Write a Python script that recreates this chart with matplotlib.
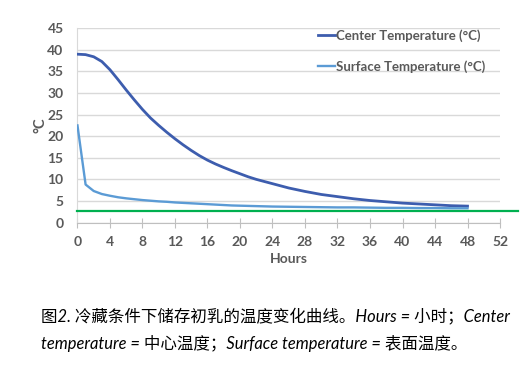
import matplotlib
matplotlib.use("Agg")
import matplotlib.pyplot as plt

hours = list(range(0, 25)) + list(range(26, 49, 2))
center_temp = [39.0, 38.9, 38.4, 37.3, 35.4, 33.1, 30.7, 28.4, 26.2, 24.2, 22.5, 20.9,
               19.4, 18.0, 16.7, 15.5, 14.45, 13.55, 12.75, 12.0, 11.3, 10.6, 10.0, 9.5, 9.0,
               8.0, 7.2, 6.5, 6.0, 5.5, 5.1, 4.8, 4.5, 4.3, 4.1, 3.9, 3.8]
surface_temp = [22.5, 8.8, 7.3, 6.6, 6.2, 5.85, 5.6, 5.4, 5.2, 5.05, 4.9, 4.8,
                4.65, 4.55, 4.45, 4.35, 4.25, 4.15, 4.05, 3.95, 3.9, 3.85, 3.8, 3.75, 3.7,
                3.65, 3.6, 3.55, 3.5, 3.5, 3.45, 3.4, 3.4, 3.35, 3.35, 3.3, 3.3]
ref_x = [0, 54.2]
ref_y = [2.75, 2.75]
x_ticks = list(range(0, 53, 4))
y_ticks = list(range(0, 46, 5))
series_labels = ["Center Temperature (°C)", "Surface Temperature (°C)"]
caption_line1 = "图2. 冷藏条件下储存初乳的温度变化曲线。Hours = 小时；Center"
caption_line2 = "temperature = 中心温度；Surface temperature = 表面温度。"

fig = plt.figure(figsize=(5.27, 3.70), dpi=100)
ax = fig.add_axes([0.147, 0.3986, 0.8018, 0.5249])

tick_color = "#595959"
grid_color = "#D9D9D9"

ax.plot(hours, center_temp, color="#3D5DAE", lw=2.0, label=series_labels[0], zorder=3)
ax.plot(hours, surface_temp, color="#5B9BD5", lw=1.7, label=series_labels[1], zorder=3)
ax.plot(ref_x, ref_y, color="#00B050", lw=1.6, clip_on=False, zorder=4)

ax.set_xlim(0, 52)
ax.set_ylim(0, 45)
ax.set_xticks(x_ticks)
ax.set_yticks(y_ticks)
ax.yaxis.grid(True, color=grid_color, lw=1)
ax.set_axisbelow(True)
for s in ["top", "right"]:
    ax.spines[s].set_visible(False)
ax.spines["left"].set_color(grid_color)
ax.spines["bottom"].set_color("#BFBFBF")
ax.tick_params(axis="y", length=0, pad=10, labelcolor=tick_color)
ax.tick_params(axis="x", direction="inout", length=7, color="#BFBFBF", pad=6, labelcolor=tick_color)
for lab in ax.get_xticklabels() + ax.get_yticklabels():
    lab.set_fontfamily("Lato")
    lab.set_fontweight("bold")
    lab.set_fontsize(10)

ax.set_xlabel("Hours", fontfamily="Lato", fontweight="bold", fontsize=10, color=tick_color, labelpad=4)
ax.set_ylabel("°C", fontfamily="Lato", fontweight="bold", fontsize=10.5, color=tick_color, labelpad=0)

leg = ax.legend(loc="upper left", bbox_to_anchor=(0.54, 1.055), frameon=False,
                handlelength=1.3, handletextpad=0.1, labelspacing=1.35,
                prop={"family": "Lato", "weight": "bold", "size": 9.5})
for t in leg.get_texts():
    t.set_color(tick_color)

cap_font = ["Lato", "Noto Sans CJK SC", "DejaVu Sans"]
fig.text(41 / 527, 1 - 316 / 370, caption_line1, family=cap_font, style="italic",
         fontsize=11.9, va="center", ha="left", color="black")
fig.text(41 / 527, 1 - 343 / 370, caption_line2, family=cap_font, style="italic",
         fontsize=11.9, va="center", ha="left", color="black")

fig.savefig("out.png", dpi=100)
